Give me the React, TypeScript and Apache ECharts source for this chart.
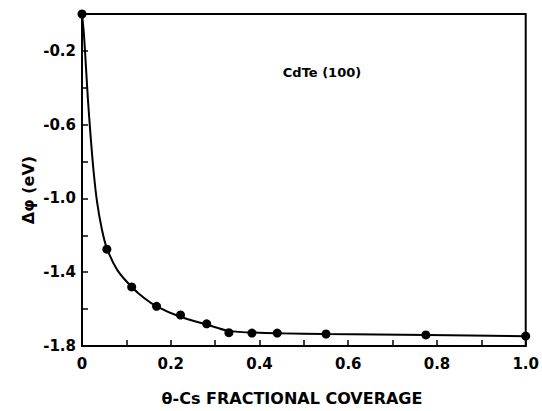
import React, { useEffect, useRef } from "react";
import * as echarts from "echarts";

const coverage = [0, 0.056, 0.112, 0.168, 0.222, 0.281, 0.331, 0.383, 0.44, 0.55, 0.775, 1.0];
const deltaPhi = [0, -1.275, -1.48, -1.585, -1.632, -1.68, -1.728, -1.73, -1.73, -1.735, -1.74, -1.746];

const curveX = [0, 0.004, 0.008, 0.013, 0.019, 0.026, 0.034, 0.045, 0.056, 0.08, 0.112, 0.14, 0.168, 0.22, 0.28, 0.33, 0.4, 0.55, 0.78, 1.0];
const curveY = [0, -0.1, -0.25, -0.45, -0.65, -0.85, -1.02, -1.17, -1.27, -1.39, -1.48, -1.54, -1.585, -1.64, -1.683, -1.718, -1.728, -1.735, -1.741, -1.747];

const chartTitle = "CdTe (100)";
const xName = "\u03b8-Cs FRACTIONAL COVERAGE";
const yName = "\u0394\u03c6 (eV)";

const FONT = "'DejaVu Sans', 'Liberation Sans', sans-serif";

export default function App() {
  const ref = useRef<HTMLDivElement>(null);
  useEffect(() => {
    if (!ref.current) return;
    document.body.style.margin = "0";
    const chart = echarts.init(ref.current, null, { renderer: "svg" });
    chart.setOption({
      animation: false,
      backgroundColor: "#fff",
      grid: {
        left: 82,
        right: 16,
        top: 14,
        bottom: 65,
        show: true,
        borderColor: "#000",
        borderWidth: 2,
        backgroundColor: "transparent",
      },
      xAxis: {
        type: "value",
        min: 0,
        max: 1,
        interval: 0.1,
        splitLine: { show: false },
        axisLine: { show: true, onZero: false, lineStyle: { color: "#000", width: 2 } },
        axisTick: { show: true, inside: true, length: 6, lineStyle: { color: "#000", width: 1.5 } },
        axisLabel: {
          color: "#000",
          fontFamily: FONT,
          fontWeight: "bold",
          fontSize: 15,
          margin: 10,
          formatter: (v: number) => {
            const k = Math.round(v * 10);
            if (k % 2 !== 0) return "";
            return k === 0 ? "0" : v.toFixed(1);
          },
        },
      },
      yAxis: {
        type: "value",
        min: -1.8,
        max: 0,
        interval: 0.2,
        splitLine: { show: false },
        axisLine: { show: true, onZero: false, lineStyle: { color: "#000", width: 2 } },
        axisTick: { show: true, inside: true, length: 6, lineStyle: { color: "#000", width: 1.5 } },
        axisLabel: {
          color: "#000",
          fontFamily: FONT,
          fontWeight: "bold",
          fontSize: 15,
          margin: 6,
          formatter: (v: number) => {
            const k = Math.round(-v * 10);
            if (k === 0 || (k - 2) % 4 !== 0) return "";
            return v.toFixed(1);
          },
        },
      },
      series: [
        {
          type: "line",
          data: curveX.map((x, i) => [x, curveY[i]]),
          smooth: 0.3,
          showSymbol: false,
          symbol: "none",
          lineStyle: { color: "#000", width: 2 },
          z: 2,
        },
        {
          type: "scatter",
          data: coverage.map((x, i) => [x, deltaPhi[i]]),
          symbol: "circle",
          symbolSize: 9,
          itemStyle: { color: "#000", opacity: 1 },
          z: 3,
        },
      ],
      graphic: [
        {
          type: "text",
          x: 322,
          y: 72,
          style: {
            text: chartTitle,
            fill: "#000",
            font: `bold 13px ${FONT}`,
            textAlign: "center",
            textVerticalAlign: "middle",
          },
        },
        {
          type: "text",
          x: 292,
          y: 398,
          style: {
            text: xName,
            fill: "#000",
            font: `bold 16px ${FONT}`,
            textAlign: "center",
            textVerticalAlign: "middle",
          },
        },
        {
          type: "text",
          x: 28,
          y: 190,
          rotation: Math.PI / 2,
          style: {
            text: yName,
            fill: "#000",
            font: `bold 16px ${FONT}`,
            textAlign: "center",
            textVerticalAlign: "middle",
          },
        },
      ],
    });
    return () => chart.dispose();
  }, []);
  return <div ref={ref} style={{ width: 542, height: 411 }} />;
}
